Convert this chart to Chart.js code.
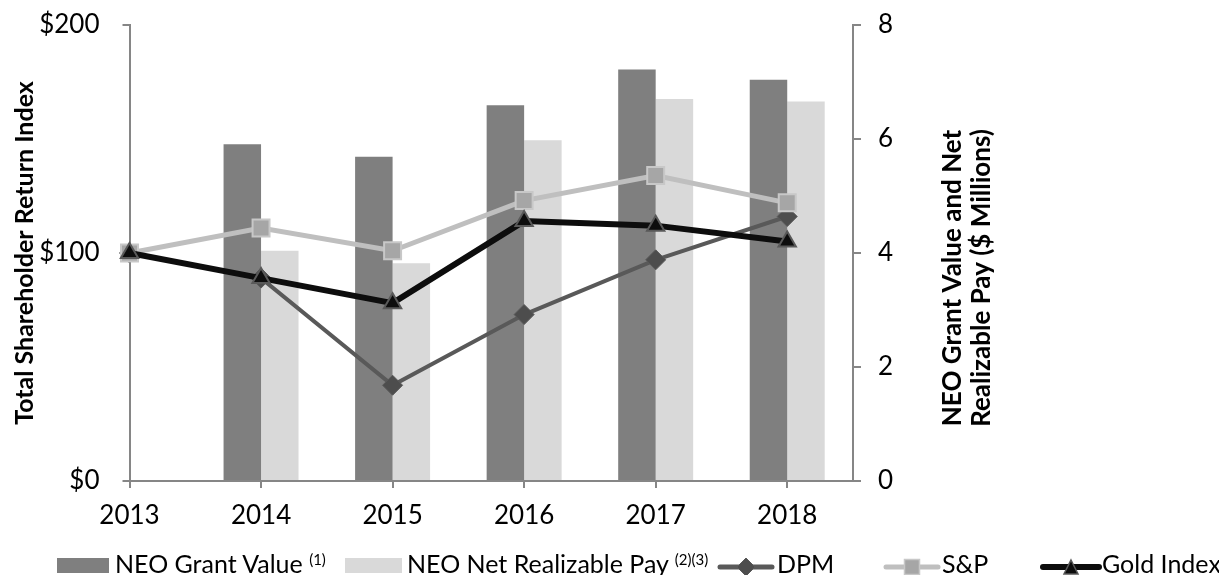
<!DOCTYPE html>
<html>
<head>
<meta charset="utf-8">
<script src="https://cdn.jsdelivr.net/npm/chart.js@4"></script>
<style>
  html, body { margin: 0; padding: 0; background: #fff; }
  #wrap { position: relative; width: 1219px; height: 575px; overflow: hidden; font-family: Lato, sans-serif; }
  .leg { position: absolute; top: 548px; height: 30px; line-height: 30px; font-size: 25px; color: #000; white-space: nowrap; }
  .leg sup { font-size: 15px; vertical-align: 8px; line-height: 0; }
  .sw { position: absolute; top: 558px; height: 15px; }
  .sym { position: absolute; top: 554px; }
</style>
</head>
<body>
<div id="wrap">
  <canvas id="tsrChart" width="1219" height="575"></canvas>

  <div class="sw" style="left:57px;width:52px;background:#7f7f7f"></div>
  <div class="leg" style="left:115px">NEO Grant Value <sup>(1)</sup></div>

  <div class="sw" style="left:345px;width:57px;background:#d9d9d9"></div>
  <div class="leg" style="left:407px">NEO Net Realizable Pay <sup>(2)(3)</sup></div>

  <svg class="sym" style="left:717px" width="58" height="26">
    <line x1="3" y1="13" x2="55" y2="13" stroke="#595959" stroke-width="5" stroke-linecap="round"/>
    <polygon points="29,4 38,13 29,22 20,13" fill="#4d4d4d" stroke="#595959" stroke-width="1"/>
  </svg>
  <div class="leg" style="left:777px">DPM</div>

  <svg class="sym" style="left:883px" width="58" height="26">
    <line x1="3" y1="13" x2="55" y2="13" stroke="#bfbfbf" stroke-width="5" stroke-linecap="round"/>
    <rect x="21.5" y="5.5" width="15" height="15" fill="#a6a6a6" stroke="#c8c8c8" stroke-width="1.5"/>
  </svg>
  <div class="leg" style="left:942px">S&amp;P</div>

  <svg class="sym" style="left:1040px" width="62" height="26">
    <line x1="3" y1="13" x2="59" y2="13" stroke="#0d0d0d" stroke-width="6" stroke-linecap="round"/>
    <polygon points="31,6 38,20 24,20" fill="#0d0d0d" stroke="#595959" stroke-width="1.5"/>
  </svg>
  <div class="leg" style="left:1102px">Gold Index</div>
</div>

<script>
// chart data
const years = [2013, 2014, 2015, 2016, 2017, 2018];
const grantValue = [null, 5.91, 5.69, 6.59, 7.22, 7.04];   // $ millions, right axis
const netPay = [null, 4.04, 3.82, 5.98, 6.70, 6.66];       // $ millions, right axis
const dpm = [100, 89, 42, 73, 97, 116];                     // TSR index, left axis
const sp = [100, 111, 101, 123, 134, 122];
const gold = [100, 89, 78, 114, 112, 105];

const leftTicks = [0, 100, 200];
const rightTicks = [0, 2, 4, 6, 8];

const leftTitle = 'Total Shareholder Return Index';
const rightTitle = ['NEO Grant Value and Net', 'Realizable Pay ($ Millions)'];

const axisGray = '#868686';

function xy(values) {
    return years.map((x, i) => ({ x: x, y: values[i] }));
}

// keep tick padding from pushing the plot area down
function fixSide(width) {
    return s => {
        s.width = width;
        s.paddingTop = 0;
        s.paddingBottom = 0;
    };
}

// right axis title reads bottom-to-top, so draw it ourselves
const rightTitlePlugin = {
    id: 'rightTitle',
    afterDraw(chart) {
        const ctx = chart.ctx;
        ctx.save();
        ctx.font = 'bold 26px Lato';
        ctx.fillStyle = '#000';
        ctx.textAlign = 'center';
        ctx.textBaseline = 'middle';
        ctx.translate(967, 278);
        ctx.rotate(-Math.PI / 2);
        ctx.fillText(rightTitle[0], 0, -14.5);
        ctx.fillText(rightTitle[1], 0, 14.5);
        ctx.restore();
    }
};

Chart.defaults.font.family = 'Lato';
Chart.defaults.color = '#000';

const ctx = document.getElementById('tsrChart').getContext('2d');
new Chart(ctx, {
    type: 'bar',
    data: {
        datasets: [
            {
                type: 'bar',
                label: 'NEO Grant Value',
                data: xy(grantValue),
                yAxisID: 'y1',
                backgroundColor: '#7f7f7f',
                categoryPercentage: 0.57,
                barPercentage: 1,
                order: 4
            },
            {
                type: 'bar',
                label: 'NEO Net Realizable Pay',
                data: xy(netPay),
                yAxisID: 'y1',
                backgroundColor: '#d9d9d9',
                categoryPercentage: 0.57,
                barPercentage: 1,
                order: 5
            },
            {
                type: 'line',
                label: 'DPM',
                data: xy(dpm),
                yAxisID: 'y',
                borderColor: '#595959',
                borderWidth: 4,
                pointStyle: 'rectRot',
                pointRadius: 10,
                pointBackgroundColor: '#4d4d4d',
                pointBorderColor: '#595959',
                pointBorderWidth: 1,
                tension: 0,
                clip: false,
                order: 3
            },
            {
                type: 'line',
                label: 'S&P',
                data: xy(sp),
                yAxisID: 'y',
                borderColor: '#bfbfbf',
                borderWidth: 5,
                pointStyle: 'rect',
                pointRadius: 12,
                pointBackgroundColor: '#a6a6a6',
                pointBorderColor: '#c8c8c8',
                pointBorderWidth: 2,
                tension: 0,
                clip: false,
                order: 2
            },
            {
                type: 'line',
                label: 'Gold Index',
                data: xy(gold),
                yAxisID: 'y',
                borderColor: '#0d0d0d',
                borderWidth: 6,
                pointStyle: 'triangle',
                pointRadius: 10,
                pointBackgroundColor: '#0d0d0d',
                pointBorderColor: '#595959',
                pointBorderWidth: 2,
                tension: 0,
                clip: false,
                order: 1
            }
        ]
    },
    options: {
        responsive: false,
        animation: false,
        events: [],
        layout: { padding: { top: 25, left: 0, right: 0, bottom: 0 } },
        plugins: {
            legend: { display: false },
            tooltip: { enabled: false }
        },
        scales: {
            x: {
                type: 'linear',
                min: years[0],
                max: years[years.length - 1] + 0.5,
                offset: false,
                grid: { drawOnChartArea: false, tickLength: 7, color: axisGray, lineWidth: 2, offset: false },
                border: { color: axisGray, width: 2 },
                ticks: {
                    stepSize: 1,
                    includeBounds: false,
                    padding: 12,
                    font: { size: 26 },
                    callback: v => String(v)
                },
                afterFit: s => { s.height = 94; }
            },
            y: {
                position: 'left',
                min: leftTicks[0],
                max: leftTicks[leftTicks.length - 1],
                grid: { drawOnChartArea: false, tickLength: 7, color: axisGray, lineWidth: 2 },
                border: { color: axisGray, width: 2 },
                ticks: {
                    stepSize: leftTicks[1] - leftTicks[0],
                    padding: 23,
                    font: { size: 26 },
                    callback: v => '$' + v
                },
                title: {
                    display: true,
                    text: leftTitle,
                    font: { size: 25, weight: 'bold' },
                    padding: { top: 10, bottom: 0 }
                },
                afterFit: fixSide(129.5)
            },
            y1: {
                position: 'right',
                min: rightTicks[0],
                max: rightTicks[rightTicks.length - 1],
                grid: { drawOnChartArea: false, tickLength: 8, color: axisGray, lineWidth: 2 },
                border: { color: axisGray, width: 2 },
                ticks: {
                    stepSize: rightTicks[1] - rightTicks[0],
                    padding: 17,
                    font: { size: 26 }
                },
                afterFit: fixSide(366)
            }
        }
    },
    plugins: [rightTitlePlugin]
});
</script>
</body>
</html>
